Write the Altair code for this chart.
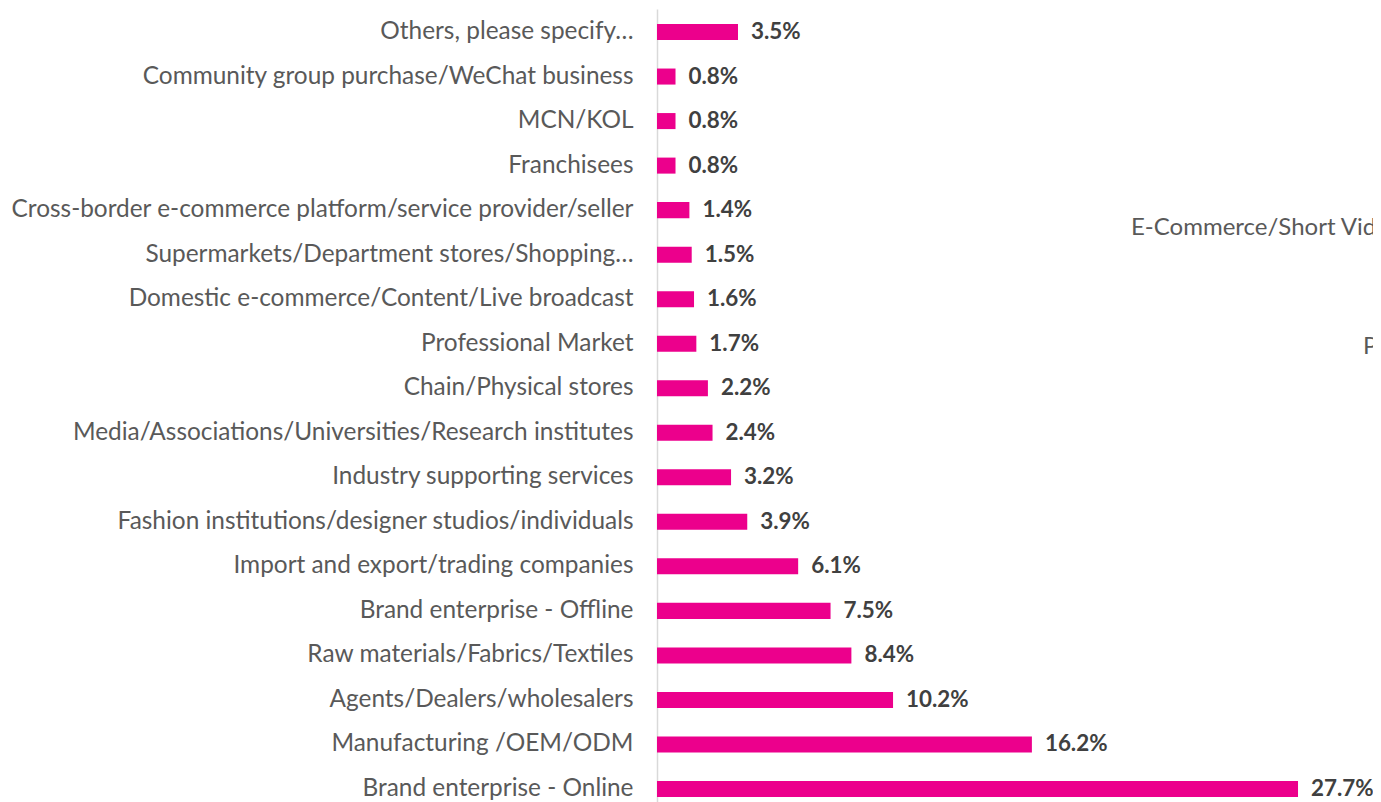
import altair as alt
import pandas as pd

categories = [
    "Others, please specify…",
    "Community group purchase/WeChat business",
    "MCN/KOL",
    "Franchisees",
    "Cross-border e-commerce platform/service provider/seller",
    "Supermarkets/Department stores/Shopping…",
    "Domestic e-commerce/Content/Live broadcast",
    "Professional Market",
    "Chain/Physical stores",
    "Media/Associations/Universities/Research institutes",
    "Industry supporting services",
    "Fashion institutions/designer studios/individuals",
    "Import and export/trading companies",
    "Brand enterprise - Offline",
    "Raw materials/Fabrics/Textiles",
    "Agents/Dealers/wholesalers",
    "Manufacturing /OEM/ODM",
    "Brand enterprise - Online",
]
values = [3.5, 0.8, 0.8, 0.8, 1.4, 1.5, 1.6, 1.7, 2.2, 2.4, 3.2, 3.9, 6.1, 7.5, 8.4, 10.2, 16.2, 27.7]
value_labels = [f"{v:.1f}%" for v in values]

# fragments of a neighbouring chart's labels, cut off by the right edge
stray_texts = ["E-Commerce/Short Video platforms", "Professional Market"]

df = pd.DataFrame({"category": categories, "value": values, "label": value_labels})

FONT = "Lato"
W, H = 716, 794

y_enc = alt.Y(
    "category:N",
    sort=categories,
    scale=alt.Scale(range=[1, 804], paddingInner=0.64, paddingOuter=0.337),
    axis=alt.Axis(
        title=None,
        ticks=False,
        grid=False,
        domain=True,
        domainColor="#D9D9D9",
        domainWidth=1.5,
        labelFont=FONT,
        labelFontSize=24.4,
        labelColor="#595959",
        labelPadding=24,
        labelLimit=700,
    ),
)
x_enc = alt.X("value:Q", scale=alt.Scale(domain=[0, 30.94]), axis=None)

base = alt.Chart(df)
bars = base.mark_bar(color="#EC008C").encode(x=x_enc, y=y_enc)
texts = base.mark_text(
    align="left", baseline="middle", dx=13, font=FONT, fontSize=22.4,
    fontWeight="bold", color="#404040"
).encode(x=x_enc, y=y_enc, text="label:N")

main = alt.layer(bars, texts)

stray_df = pd.DataFrame({"t": stray_texts, "px": [474, 706], "py": [220, 339]})
stray = alt.Chart(stray_df).mark_text(
    align="left", baseline="middle", font=FONT, fontSize=24, color="#595959", clip=True
).encode(
    x=alt.X("px:Q", scale=None, axis=None),
    y=alt.Y("py:Q", scale=None, axis=None),
    text="t:N",
)

chart = (
    alt.layer(main, stray)
    .resolve_scale(x="independent", y="independent")
    .properties(
        width=W,
        height=H,
        autosize=alt.AutoSizeParams(type="none"),
        padding={"left": 649, "top": 0, "right": 0, "bottom": 0},
    )
    .configure_view(stroke=None)
)

chart.save("out.html", embed_options={"renderer": "svg", "actions": False})
